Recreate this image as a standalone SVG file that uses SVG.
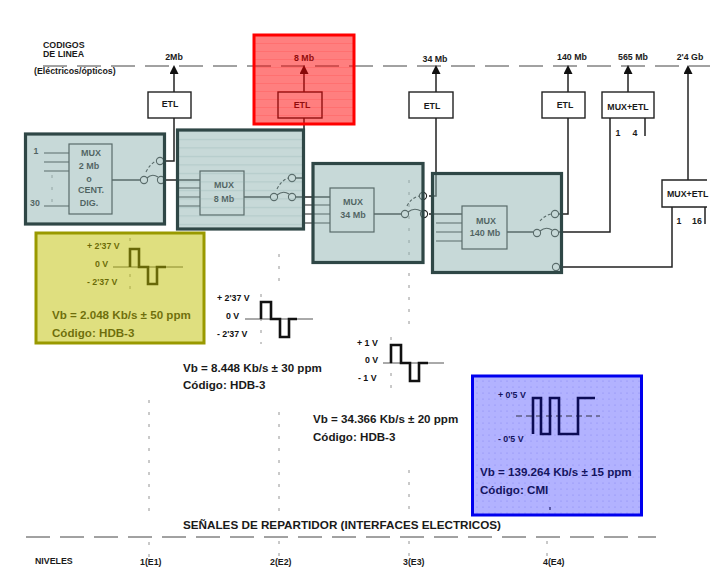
<svg xmlns="http://www.w3.org/2000/svg" width="722" height="585" viewBox="0 0 722 585">
<style>
text{font-family:"Liberation Sans",Arial,sans-serif;font-weight:bold;fill:#1a1a1a;font-size:8.8px}
.m{text-anchor:middle}
.v{font-size:11.600px}
.t{font-size:8.8px;fill:#111}
.mx{font-size:9px;fill:#111;text-anchor:middle}
.l{fill:none;stroke:#222;stroke-width:1.5}
.c{fill:none;stroke:#222;stroke-width:1.1}
.in{fill:none;stroke:#222;stroke-width:1.1}
.w{fill:none;stroke:#111;stroke-width:2.6}
.ax{fill:none;stroke:#555;stroke-width:1}
.d{fill:none;stroke:#888;stroke-width:.9;stroke-dasharray:3 9}
.hd{fill:none;stroke:#444;stroke-width:1;stroke-dasharray:24 10}
.b{fill:#fff;stroke:#222;stroke-width:1.4}
.mb{fill:none;stroke:#222;stroke-width:1.2}
.teal{fill:#8fb3b1;fill-opacity:.5;stroke:#2f4746;stroke-width:3.2}
</style>
<defs>
<marker id="a" markerWidth="10" markerHeight="10" refX="4.500" refY="9" orient="0" markerUnits="userSpaceOnUse"><path d="M0,9 L4.500,0 L9,9 Z" fill="#111"/></marker>
<pattern id="red" width="10" height="8" patternUnits="userSpaceOnUse"><rect width="10" height="8" fill="#ff0000" fill-opacity=".5"/><rect y="3" width="10" height="1" fill="#ff0000" fill-opacity=".12"/></pattern>
<pattern id="tealp" width="10" height="8.500" patternUnits="userSpaceOnUse"><rect width="10" height="8.500" fill="#8fb3b1" fill-opacity=".5"/><rect y="3" width="10" height="1" fill="#7fa5a3" fill-opacity=".3"/></pattern>
<pattern id="blue" width="6" height="6" patternUnits="userSpaceOnUse"><rect width="6" height="6" fill="#6666ff" fill-opacity=".5"/><circle cx="3" cy="3" r=".6" fill="#4444dd" fill-opacity=".4"/></pattern>
</defs>
<rect width="722" height="585" fill="#fff"/>
<g id="guides">
<path class="hd" d="M43,66 H710" stroke-dasharray="22 12"/>
<path class="hd" d="M26,537 H656"/>
<path class="d" d="M149,400 V512 M149,542 V560"/>
<path class="d" d="M279,254 V290 M279,412 V512 M279,541 V562"/>
<path class="d" d="M409,273 V328 M409,470 V512 M409,541 V562"/>
<path class="d" d="M547,541 V562"/>
</g>
<g id="connectors">
<path class="l" d="M174,92 V74" marker-end="url(#a)"/>
<path class="l" d="M304,92 V74" marker-end="url(#a)"/>
<path class="l" d="M436,92 V74" marker-end="url(#a)"/>
<path class="l" d="M568,92 V74" marker-end="url(#a)"/>
<path class="l" d="M628,92 V74" marker-end="url(#a)"/>
<path class="l" d="M688,180 V74" marker-end="url(#a)"/>
<path class="l" d="M164,161 H174 V118"/>
<path class="l" d="M164,180 H200"/>
<path class="l" d="M296,178 H304 V118"/>
<path class="l" d="M296,197 H330"/>
<path class="c" d="M304,205 H330 M304,214 H330 M304,223 H330"/>
<path class="l" d="M429,196 H436 V118"/>
<path class="l" d="M429,214 H462"/>
<path class="l" d="M559,214 H568 V118"/>
<path class="l" d="M559,232 H610 V118"/>
<path class="l" d="M560,267 H672 V207"/>
<path class="l" d="M645,118 V136 M705,207 V224"/>
</g>
<g id="node-etl-2"><rect class="b" x="148" y="92" width="43" height="26"/><text class="m" x="170" y="107">ETL</text></g>
<g id="node-etl-34"><rect class="b" x="409" y="92" width="44" height="26"/><text class="m" x="432" y="109">ETL</text></g>
<g id="node-etl-140"><rect class="b" x="542" y="92" width="43" height="26"/><text class="m" x="565" y="108">ETL</text></g>
<g id="node-muxetl-565"><rect class="b" x="602" y="92" width="52" height="26"/><text class="m" x="628" y="110">MUX+ETL</text><text class="m" x="618" y="136">1</text><text class="m" x="635" y="136">4</text></g>
<g id="node-muxetl-24"><path fill="#fff" stroke="#222" stroke-width="1.4" d="M707,180 H662 V207 H707"/><text x="667" y="197">MUX+ETL</text><text class="m" x="679" y="224">1</text><text class="m" x="697" y="224">16</text></g>
<g id="labels-top">
<text x="43" y="48">CODIGOS</text><text x="43" y="57">DE LINEA</text><text x="34" y="74">(Eléctricos/ópticos)</text>
<text class="m" x="174" y="60">2Mb</text><text class="m" x="435" y="62">34 Mb</text><text class="m" x="572" y="60">140 Mb</text><text class="m" x="633" y="60">565 Mb</text><text class="m" x="690" y="60">2'4 Gb</text>
</g>
<g id="node-8mb-line">
<text class="m" x="304" y="61">8 Mb</text>
<rect class="b" x="278" y="92" width="44" height="26"/><text class="m" x="302" y="108">ETL</text>
<rect x="254" y="35" width="100" height="89" fill="url(#red)" stroke="#ff0000" stroke-width="3"/>
</g>
<g id="node-mux-2">
<path class="in" d="M44,153 H69 M44,162 H69 M44,171 H69 M44,206 H69"/>
<path class="d" d="M52,175 V202" stroke-dasharray="2 4"/>
<rect class="mb" x="69" y="144" width="43" height="70"/>
<path class="l" d="M112,180 H140"/>
<circle class="c" cx="144" cy="180" r="3.600"/><circle class="c" cx="161" cy="180" r="3.600"/><circle class="c" cx="160" cy="161" r="3.600"/>
<path class="c" d="M147,178 Q152,173 158,177"/><path class="c" d="M146,172 Q150,164 156,161" stroke-dasharray="3 2"/>
<text class="t" x="36" y="154" text-anchor="middle">1</text><text class="t" x="35" y="206" text-anchor="middle">30</text>
<text class="mx" x="91" y="156">MUX</text><text class="mx" x="89" y="169">2 Mb</text><text class="mx" x="89" y="182">o</text><text class="mx" x="91" y="193">CENT.</text><text class="mx" x="89" y="206">DIG.</text>
<rect class="teal" x="25.500" y="134" width="139" height="90"/>
</g>
<g id="node-mux-8">
<path class="in" d="M177,188 H200 M177,197 H200 M177,206 H200"/>
<rect class="mb" x="200" y="171" width="44" height="44"/>
<path class="l" d="M244,197 H270"/>
<circle class="c" cx="274" cy="197" r="3.600"/><circle class="c" cx="292" cy="197" r="3.600"/><circle class="c" cx="292" cy="178" r="3.600"/>
<path class="c" d="M277,195 Q283,190 289,194"/><path class="c" d="M277,189 Q281,181 288,178" stroke-dasharray="3 2"/>
<text class="mx" x="224" y="188">MUX</text><text class="mx" x="224" y="202">8 Mb</text>
<rect x="177.500" y="130" width="126" height="99" fill="url(#tealp)" stroke="#2f4746" stroke-width="3.200"/>
</g>
<g id="node-mux-34">
<rect class="mb" x="330" y="188" width="44" height="44"/>
<path class="l" d="M374,214 H401"/>
<circle class="c" cx="405" cy="214" r="3.600"/><circle class="c" cx="424" cy="214" r="3.600"/><circle class="c" cx="423" cy="196" r="3.600"/>
<path class="c" d="M408,212 Q414,207 421,211"/><path class="c" d="M407,206 Q411,198 419,196" stroke-dasharray="3 2"/>
<path class="d" d="M409,180 V262"/>
<text class="mx" x="353" y="205">MUX</text><text class="mx" x="353" y="218">34 Mb</text>
<rect class="teal" x="313" y="163.500" width="110" height="99"/>
</g>
<g id="node-mux-140">
<path class="in" d="M436,223 H462 M436,232 H462 M436,241 H462"/>
<rect class="mb" x="462" y="206" width="45" height="43"/>
<path class="l" d="M507,232 H533"/>
<circle class="c" cx="537" cy="233" r="3.600"/><circle class="c" cx="555" cy="233" r="3.600"/><circle class="c" cx="555" cy="214" r="3.600"/><circle class="c" cx="556" cy="267" r="3.600"/>
<path class="c" d="M540,231 Q546,226 552,230"/><path class="c" d="M540,221 Q544,216 551,214" stroke-dasharray="3 2"/>
<text class="mx" x="486" y="224">MUX</text><text class="mx" x="485" y="236">140 Mb</text>
<rect class="teal" x="432.500" y="173.500" width="129" height="99"/>
</g>
<g id="node-signal-2048">
<path class="d" d="M130,238 V292" stroke-dasharray="2 4"/>
<path class="ax" d="M113,267 H183"/>
<path class="w" d="M130,267 V249 H139 V267 H148 V284 H157 V267 H166"/>
<text class="t" x="87" y="249">+ 2'37 V</text><text class="t" x="95" y="267">0 V</text><text class="t" x="87" y="285">- 2'37 V</text>
<text class="v" x="52" y="319">Vb = 2.048 Kb/s ± 50 ppm</text><text class="v" x="52" y="337">Código: HDB-3</text>
<rect x="36" y="233" width="168" height="110" fill="#bfbf00" fill-opacity=".5" stroke="#999900" stroke-width="3"/>
</g>
<g id="node-signal-8448">
<path class="d" d="M261,294 V344" stroke-dasharray="2 4"/>
<path class="ax" d="M245,319 H313"/>
<path class="w" d="M261,319 V302 H271 V319 H280 V337 H289 V319 H297"/>
<text class="t" x="217" y="301">+ 2'37 V</text><text class="t" x="226" y="319">0 V</text><text class="t" x="217" y="337">- 2'37 V</text>
<text class="v" x="183" y="372">Vb = 8.448 Kb/s ± 30 ppm</text><text class="v" x="183" y="389">Código: HDB-3</text>
</g>
<g id="node-signal-34366">
<path class="d" d="M391,337 V390" stroke-dasharray="2 4"/>
<path class="ax" d="M383,363 H444"/>
<path class="w" d="M391,363 V345 H401 V363 H410 V381 H419 V363 H428"/>
<text class="t" x="357" y="346">+ 1 V</text><text class="t" x="365" y="363">0 V</text><text class="t" x="358" y="381">- 1 V</text>
<text class="v" x="313" y="423">Vb = 34.366 Kb/s ± 20 ppm</text><text class="v" x="313" y="441">Código: HDB-3</text>
</g>
<g id="node-signal-139264">
<rect x="472.500" y="376" width="169" height="139" fill="url(#blue)" stroke="#0000ee" stroke-width="3"/>
<path class="ax" d="M516,416 H600" stroke-dasharray="6 4" style="stroke:#334"/>
<path class="w" d="M533,434 V398 H541 V434 H550 V398 H559 V434 H578 V398 H595" style="stroke:#0c0c55"/>
<text class="t" x="498" y="398" style="fill:#14145f">+ 0'5 V</text><text class="t" x="498" y="442" style="fill:#14145f">- 0'5 V</text>
<text class="v" x="480" y="476" style="fill:#14145f">Vb = 139.264 Kb/s ± 15 ppm</text><text class="v" x="480" y="494" style="fill:#14145f">Código: CMI</text>
<path class="c" d="M550,507 V510" style="stroke:#14145f"/>
</g>
<g id="labels-bottom">
<text x="183" y="529" style="font-size:11.700px">SEÑALES DE REPARTIDOR (INTERFACES ELECTRICOS)</text>
<text x="35" y="564">NIVELES</text><text x="140" y="565">1(E1)</text><text x="270" y="565">2(E2)</text><text x="403" y="565">3(E3)</text><text x="543" y="565">4(E4)</text>
</g>
</svg>
